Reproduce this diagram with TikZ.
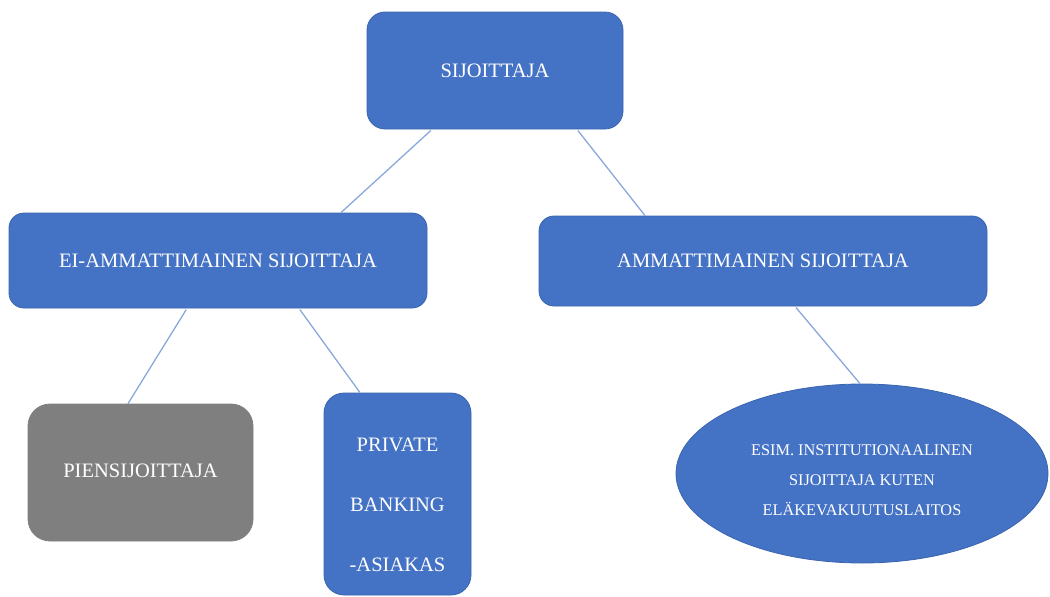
\documentclass[tikz,border=0pt]{standalone}
\usepackage{fontspec}
\setmainfont{Liberation Serif}
\usetikzlibrary{shapes.geometric}
\definecolor{boxblue}{HTML}{4472C4}
\definecolor{boxedge}{HTML}{3B64AE}
\definecolor{boxgray}{HTML}{7F7F7F}
\definecolor{linkblue}{HTML}{8AA8DC}
\tikzset{
  box/.style={rectangle, fill=boxblue, draw=boxedge, line width=0.8pt, text=white, inner sep=0pt, font=\fontsize{20.5}{24}\selectfont},
  link/.style={draw=linkblue, line width=1.3pt, shorten <=1.5pt}
}
\begin{document}
\begin{tikzpicture}[x=1pt,y=-1pt]
\useasboundingbox (0,0) rectangle (1050,597);
\node[box, rounded corners=18pt, minimum width=256pt, minimum height=117pt] (sij) at (495,70.5) {SIJOITTAJA};
\node[box, rounded corners=15pt, minimum width=418pt, minimum height=95pt] (ei) at (218,260.5) {EI-AMMATTIMAINEN SIJOITTAJA};
\node[box, rounded corners=15pt, minimum width=448pt, minimum height=90pt] (amm) at (763,261) {AMMATTIMAINEN SIJOITTAJA};
\node[box, fill=boxgray, draw=boxgray, rounded corners=22pt, minimum width=225pt, minimum height=137pt] (pien) at (140.5,472.5) {\raisebox{4pt}{PIENSIJOITTAJA}};
\node[box, rounded corners=20pt, minimum width=147pt, minimum height=202pt,
  label={[text=white, align=center, yshift=-11pt, font=\fontsize{20.5}{60}\selectfont]center:PRIVATE\\BANKING\\-ASIAKAS}] (priv) at (397.5,494) {};
\node[box, ellipse, minimum width=372pt, minimum height=179pt,
  label={[text=white, align=center, yshift=-7pt, font=\fontsize{16.3}{30}\selectfont]center:ESIM. INSTITUTIONAALINEN\\SIJOITTAJA KUTEN\\ELÄKEVAKUUTUSLAITOS}] (ell) at (862,473.5) {};
\draw[link] ([xshift=-63pt]sij.south) -- ([xshift=123pt]ei.north);
\draw[link] ([xshift=82pt]sij.south) -- ([xshift=-118pt]amm.north);
\draw[link] ([xshift=-31pt]ei.south) -- ([xshift=-12.5pt]pien.north);
\draw[link] ([xshift=81pt]ei.south) -- ([xshift=-37.5pt]priv.north);
\draw[link] ([xshift=32pt]amm.south) -- ([xshift=-2pt]ell.north);
\end{tikzpicture}
\end{document}
